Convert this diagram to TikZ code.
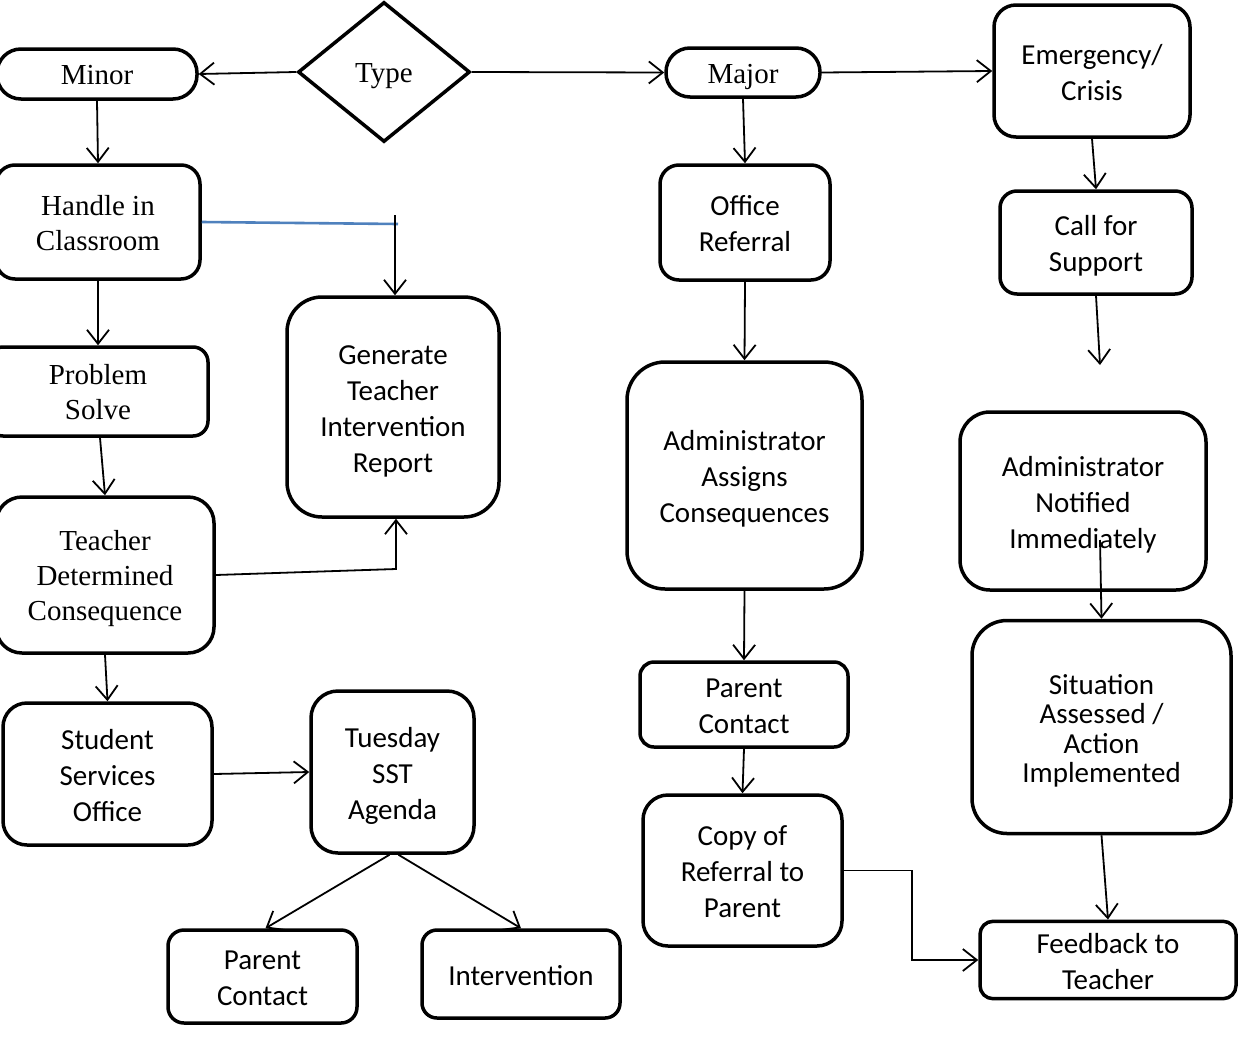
\documentclass[tikz,border=0pt]{standalone}
\usepackage{fontspec}
\setmainfont{Liberation Serif}
\newfontfamily\calfont{Carlito}
\usetikzlibrary{arrows.meta,shapes.geometric}
\definecolor{wordblue}{RGB}{79,129,189}
% struts that give each text block fixed line metrics (top of first line, bottom of last line)
\newcommand{\sA}{\rule{0pt}{\strA}}
\newcommand{\sZ}{\rule[-\strZ]{0pt}{0pt}}
\tikzset{
  bx/.style={draw, line width=3.5pt, rounded corners=#1, align=center, inner sep=0pt,
    font=\calfont\fontsize{29}{36}\selectfont\def\strA{32pt}\def\strZ{9.4pt}},
  sbx/.style={bx=#1, font=\rmfamily\fontsize{29}{35}\selectfont\def\strA{31pt}\def\strZ{10pt}},
  sz/.style 2 args={minimum width=#1pt, minimum height=#2pt},
  arr/.style={line width=1.8pt, -{Straight Barb[length=14pt,width=22pt,line width=1.8pt]}},
}
\begin{document}
\begin{tikzpicture}[x=1pt,y=-1pt]
\path[fill=white, use as bounding box] (0,0) rectangle (1241,1036);

% top row
\node[sbx=24pt, sz={200}{50}] (minor) at (97,74) {\sA Minor\sZ};
\node[draw, diamond, line width=3.5pt, sz={172}{140}, inner sep=0pt,
      font=\rmfamily\fontsize{29}{35}\selectfont\def\strA{31pt}\def\strZ{10pt}] (type) at (384,72) {\sA Type\sZ};
\node[sbx=24pt, sz={154}{49}] (major) at (743,72.5) {\sA Major\sZ};
\node[bx=22pt, sz={196}{132}] (emerg) at (1092,71) {\sA Emergency/\\Crisis\sZ};

% left column
\node[sbx=19pt, sz={204}{114}] (handle) at (98,222) {\sA Handle in\\Classroom\sZ};
\node[sbx=15pt, sz={220}{89}] (problem) at (98,391.5) {\sA Problem\\Solve\sZ};
\node[sbx=26pt, sz={218}{156}] (teacher) at (105,575) {\sA Teacher\\Determined\\Consequence\sZ};
\node[bx=24pt, sz={209}{142}] (student) at (107.5,774) {\sA Student\\Services\\Office\sZ};
\node[bx=35pt, sz={212}{220}] (gen) at (393,407) {\sA Generate\\Teacher\\Intervention\\Report\sZ};
\node[bx=27pt, sz={163}{162}] (tues) at (392.5,772) {\sA Tuesday\\SST\\Agenda\sZ};
\node[bx=16pt, sz={189}{93}] (parent1) at (262.5,976.5) {\sA Parent\\Contact\sZ};
\node[bx=15pt, sz={198}{88}] (interv) at (521,974) {\sA Intervention\sZ};

% middle column
\node[bx=19pt, sz={170}{115}] (office) at (745,222.5) {\sA Office\\Referral\sZ};
\node[bx=38pt, sz={235}{227}] (admin) at (744.5,475.5) {\sA Administrator\\Assigns\\Consequences\sZ};
\node[bx=14pt, sz={208}{85}] (parent2) at (744,704.5) {\sA Parent\\Contact\sZ};
\node[bx=25pt, sz={199}{151}] (copy) at (742.5,870.5) {\sA Copy of\\Referral to\\Parent\sZ};

% right column
\node[bx=17pt, sz={192}{103}] (call) at (1096,242.5) {\sA Call for\\Support\sZ};
\node[bx=30pt, sz={246}{178}] (notified) at (1083,501) {\sA Administrator\\Notified\\Immediately\sZ};
\node[bx=35pt, sz={259}{213}, font=\calfont\fontsize{29}{29.5}\selectfont\def\strA{32pt}\def\strZ{9.4pt}] (situation) at (1101.5,727)
  {\sA Situation\\Assessed /\\Action\\Implemented\sZ};
\node[bx=13pt, sz={256}{76}] (feedback) at (1108,960) {\sA Feedback to\\Teacher\sZ};

% helper coordinates
\coordinate (blueend) at (398,224);
\coordinate (genin) at (395,215);
\coordinate (tcorner) at (396,569);
\coordinate (callend) at (1100,365);
\coordinate (notin) at (1100,540);

% connectors: top row
\draw[arr] (type.west) -- (minor.east);
\draw[arr] (type.east) -- (major.west);
\draw[arr] (major.east) -- (emerg.west);

% left column
\draw[arr] (minor.south) -- (handle.north);
\draw[line width=2.6pt, wordblue] (handle.east) -- (blueend);
\draw[arr] (genin) -- (genin |- gen.north);
\draw[arr] (handle.south) -- (problem.north);
\draw[arr] ([xshift=2pt]problem.south) -- (teacher.north);
\draw[arr] (teacher.east) -- (tcorner) -- (tcorner |- gen.south);
\draw[arr] (teacher.south) -- (student.north);
\draw[arr] (student.east) -- (tues.west);
\draw[arr] ([xshift=-3pt]tues.south) -- ([xshift=3pt]parent1.north);
\draw[arr] ([xshift=6pt]tues.south) -- (interv.north);

% middle column
\draw[arr] (major.south) -- (office.north);
\draw[arr] (office.south) -- (admin.north);
\draw[arr] (admin.south) -- (parent2.north);
\draw[arr] (parent2.south) -- (copy.north);
\draw[arr] (copy.east) -- ([xshift=68pt]copy.east) |- (feedback.west);

% right column
\draw[arr] (emerg.south) -- (call.north);
\draw[arr] (call.south) -- (callend);
\draw[arr] (notin) -- (situation.north);
\draw[arr] (situation.south) -- (feedback.north);
\end{tikzpicture}
\end{document}
